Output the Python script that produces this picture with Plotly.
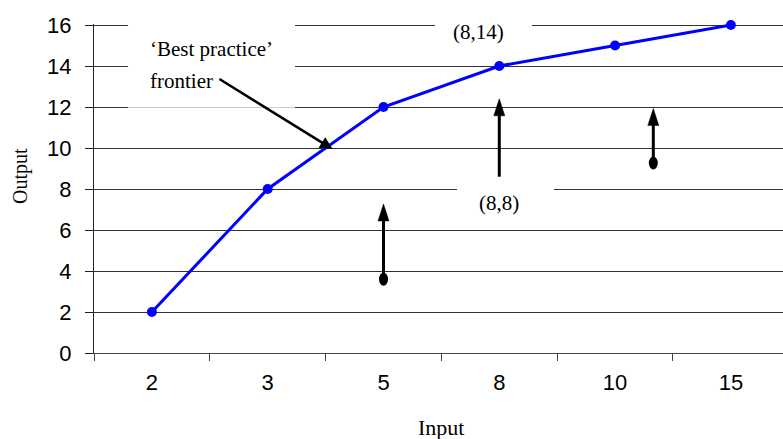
import plotly.graph_objects as go

# Efficiency frontier: output attained at each input level
inputs = ["2", "3", "5", "8", "10", "15"]
frontier_output = [2, 8, 12, 14, 15, 16]

# Firms lying below the frontier (x as category position, output) and how far up they could move
firm_x = [2.0, 4.33]
firm_y = [3.6, 9.27]
firm_target_y = [7.27, 11.93]

# Gap at input 8: from the observed (8,8) level up towards the frontier value (8,14)
gap_input = "8"
gap_observed = 8
gap_arrow_from = 8.6
gap_arrow_to = 12.4

# Pointer from the frontier caption to the curve
caption_tail = (0.57, 13.41)
caption_head = (1.56, 9.95)

serif = "Liberation Serif, Times New Roman, serif"
sans = "Liberation Sans, Arial, sans-serif"

gap_pos = inputs.index(gap_input)
frontier_at_gap = frontier_output[gap_pos]

fig = go.Figure()
fig.add_trace(go.Scatter(
    x=inputs, y=frontier_output, mode="lines+markers",
    line=dict(color="#0000FF", width=3),
    marker=dict(color="#0000FF", size=10),
    cliponaxis=False, showlegend=False, hoverinfo="x+y",
))

shapes = []
# white boxes behind the captions (over gridlines, under the curve)
for x0, x1, y0, y1 in [(-0.206, 1.236, 11.97, 16.6), (2.445, 3.282, 15.05, 16.6), (2.635, 3.472, 6.5, 8.45)]:
    shapes.append(dict(type="rect", xref="x", yref="y", x0=x0, x1=x1, y0=y0, y1=y1,
                       fillcolor="white", line=dict(width=0), layer="between"))

def up_arrow(x, y_from, y_to):
    shapes.append(dict(type="line", xref="x", yref="y", x0=x, x1=x, y0=y_from, y1=y_to - 0.6,
                       line=dict(color="black", width=3), layer="above"))
    shapes.append(dict(type="path", xref="x", yref="y", xsizemode="pixel", ysizemode="pixel",
                       xanchor=x, yanchor=y_to, path="M0,0 L-5.5,-17 L5.5,-17 Z",
                       fillcolor="black", line=dict(color="black", width=0.5), layer="above"))

for fx, fy, ty in zip(firm_x, firm_y, firm_target_y):
    up_arrow(fx, fy, ty)
    shapes.append(dict(type="circle", xref="x", yref="y", xsizemode="pixel", ysizemode="pixel",
                       xanchor=fx, yanchor=fy, x0=-4.5, x1=4.5, y0=-6.5, y1=6.5,
                       fillcolor="black", line=dict(width=0), layer="above"))

up_arrow(gap_pos, gap_arrow_from, gap_arrow_to)

W, H = 783, 439
ML, MR, MT, MB = 94, 0, 24, 86
plot_h = H - MT - MB
plot_w = W - ML - MR

annotations = [
    dict(x=caption_head[0], y=caption_head[1], ax=caption_tail[0], ay=caption_tail[1],
         xref="x", yref="y", axref="x", ayref="y", text="", showarrow=True,
         arrowhead=2, arrowsize=1, arrowwidth=2.5, arrowcolor="black"),
    dict(x=-0.034, y=14.83, xref="x", yref="y", xanchor="left", yanchor="middle",
         text="‘Best practice’", showarrow=False, font=dict(family=serif, size=21, color="black")),
    dict(x=-0.034, y=13.27, xref="x", yref="y", xanchor="left", yanchor="middle",
         text="frontier", showarrow=False, font=dict(family=serif, size=21, color="black")),
    dict(x=2.82, y=15.66, xref="x", yref="y", xanchor="center", yanchor="middle",
         text=f"({gap_input},{frontier_at_gap})", showarrow=False,
         font=dict(family=serif, size=21, color="black")),
    dict(x=gap_pos, y=7.32, xref="x", yref="y", xanchor="center", yanchor="middle",
         text=f"({gap_input},{gap_observed})", showarrow=False,
         font=dict(family=serif, size=21, color="black")),
    # axis titles, placed by pixel position converted to paper fractions
    dict(x=2.5, y=1 - (427 - MT) / plot_h, xref="x", yref="paper",
         xanchor="center", yanchor="middle", text="Input", showarrow=False,
         font=dict(family=serif, size=22, color="black")),
    dict(x=(20 - ML) / plot_w, y=1 - (176 - MT) / plot_h, xref="paper", yref="paper",
         xanchor="center", yanchor="middle", text="Output", textangle=-90,
         showarrow=False, font=dict(family=serif, size=20, color="black")),
]

fig.update_layout(
    width=W, height=H,
    margin=dict(l=ML, r=MR, t=MT, b=MB),
    paper_bgcolor="white", plot_bgcolor="white",
    shapes=shapes, annotations=annotations,
    xaxis=dict(type="category", range=[-0.5, 5.45], tickson="boundaries",
               ticks="outside", ticklen=7, tickcolor="#444", showline=True,
               linecolor="#444", linewidth=1, showgrid=False, zeroline=False,
               tickfont=dict(family=sans, size=22, color="black"), ticklabelstandoff=10),
    yaxis=dict(range=[0, 16.05], tickvals=list(range(0, 17, 2)), ticks="outside", ticklen=8,
               tickcolor="#222", showline=True, linecolor="#222", linewidth=1, showgrid=True,
               gridcolor="#333", gridwidth=1, zeroline=False,
               tickfont=dict(family=sans, size=22, color="black"), ticklabelstandoff=9),
)

fig.write_html("out.html")
